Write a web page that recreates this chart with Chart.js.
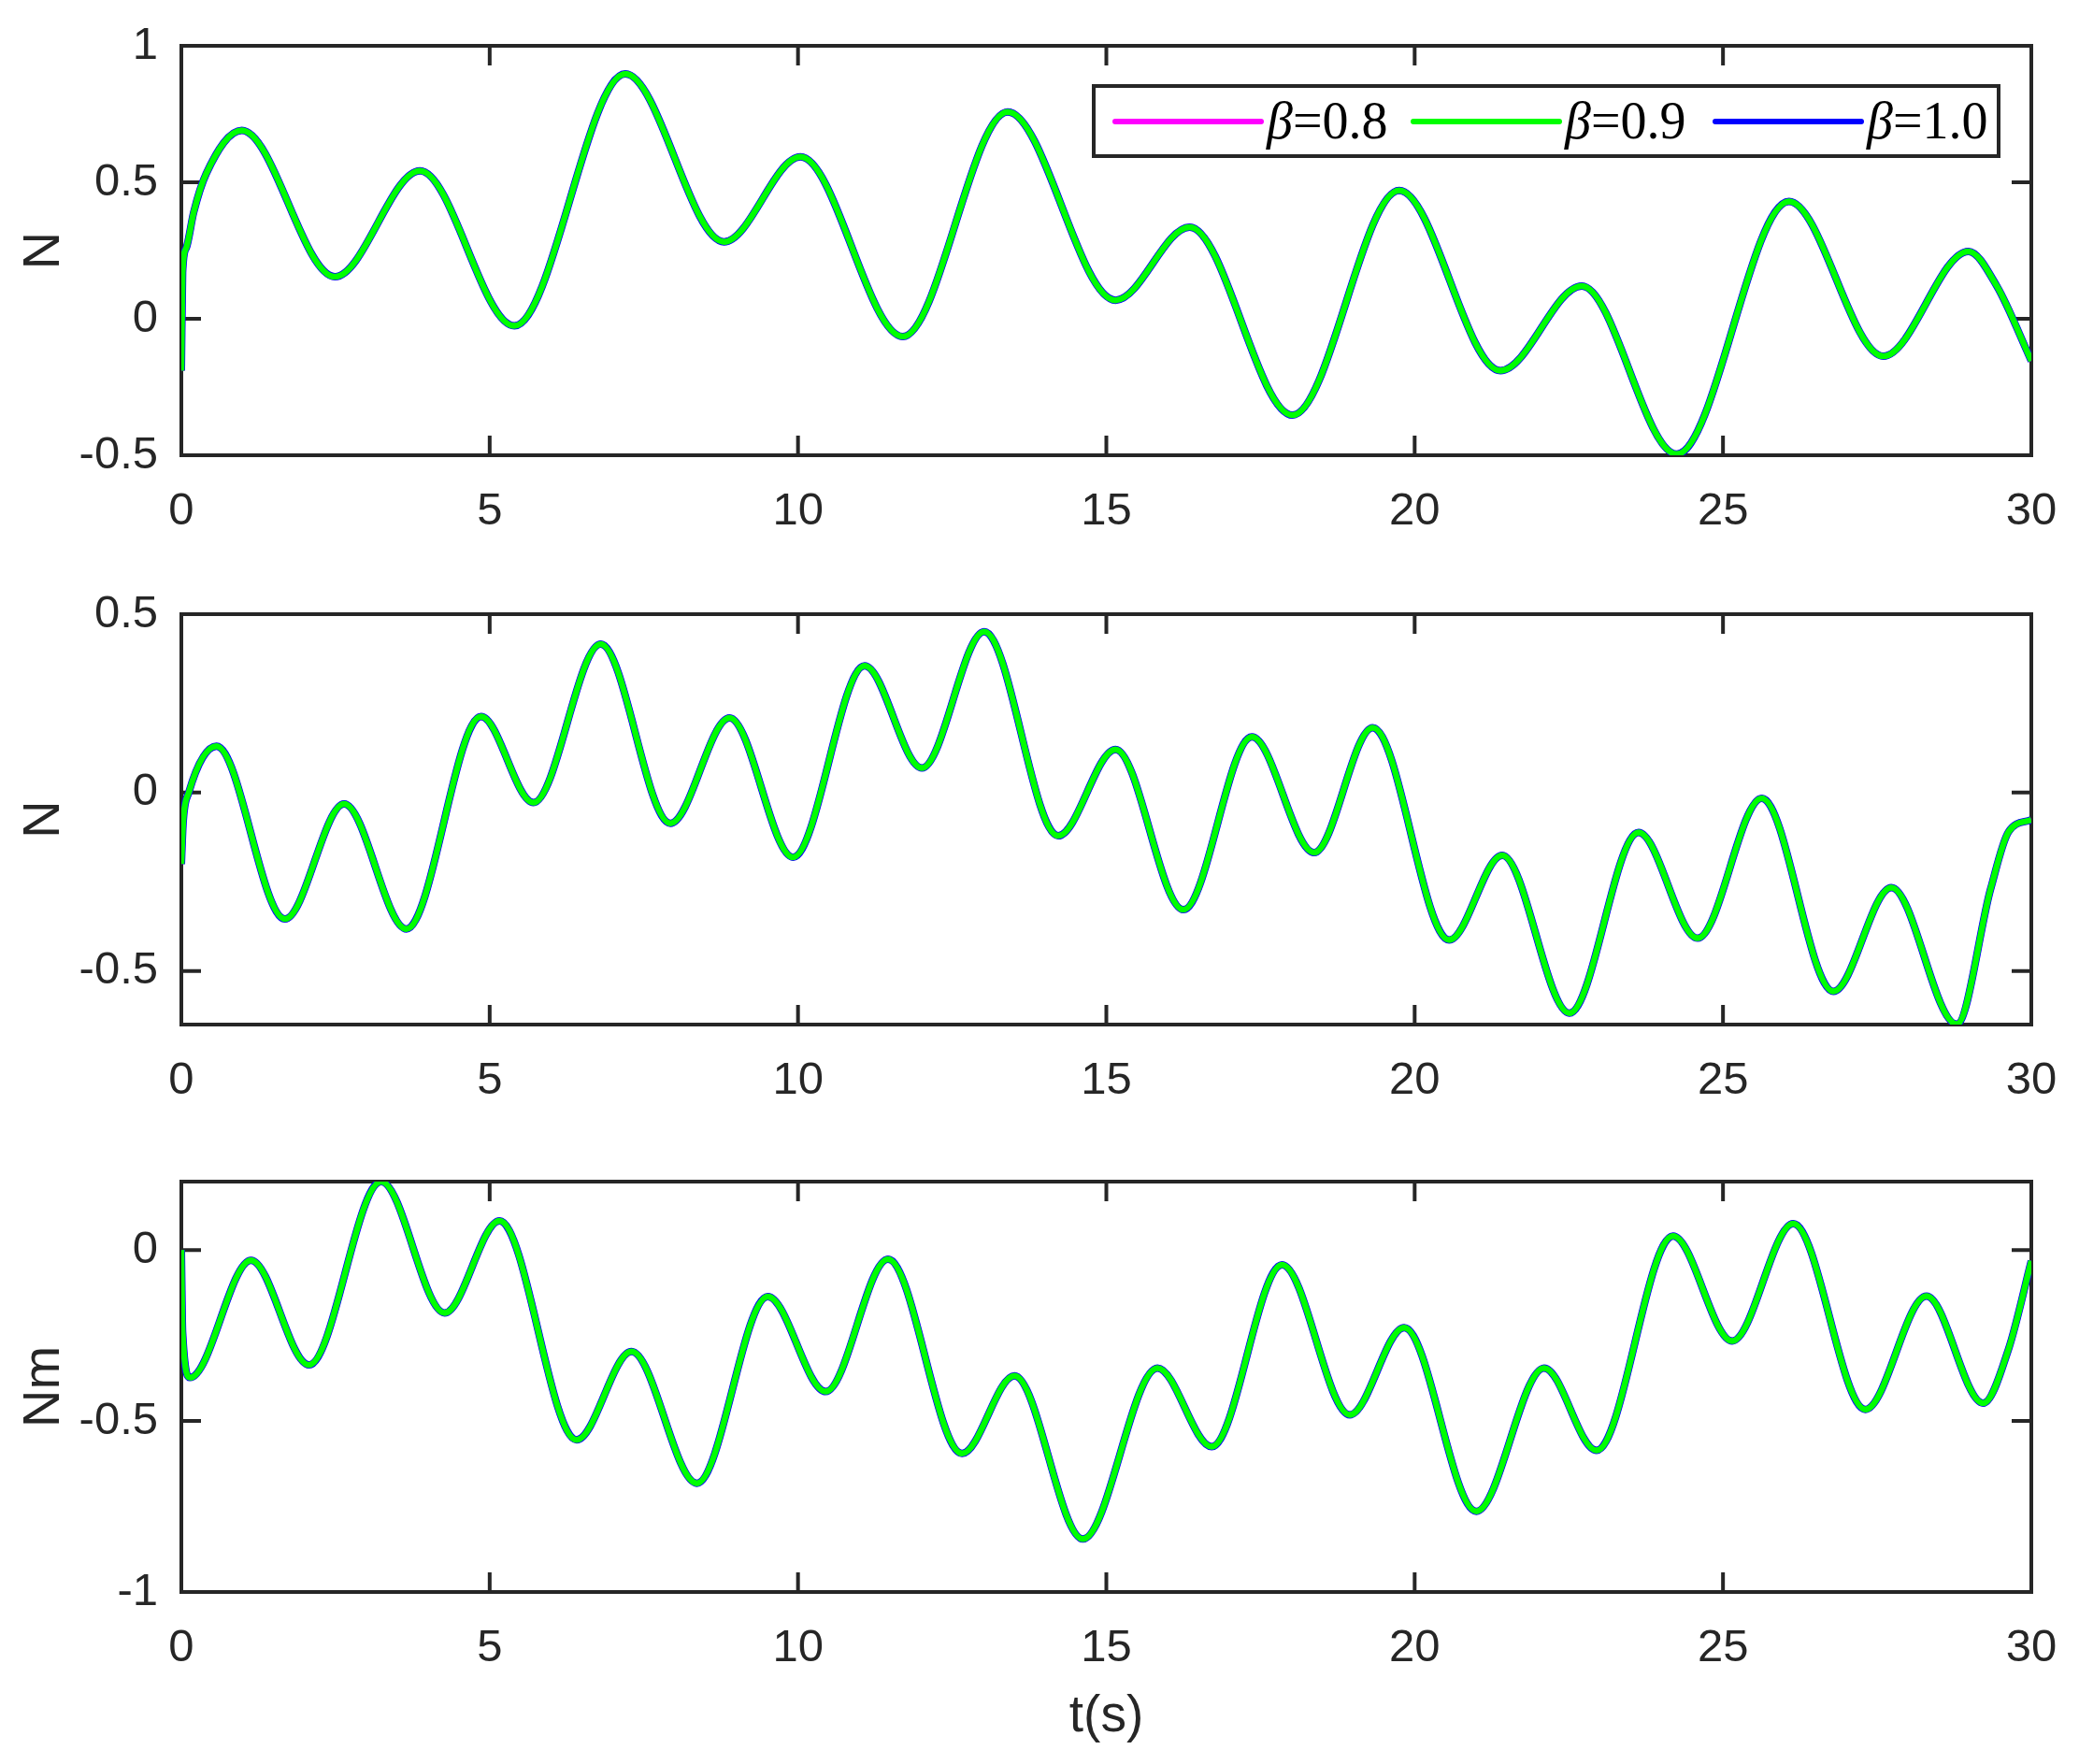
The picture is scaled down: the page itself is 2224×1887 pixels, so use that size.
<!DOCTYPE html>
<html>
<head>
<meta charset="utf-8">
<title>N / Nm response, beta = 0.8, 0.9, 1.0</title>
<script src="https://cdn.jsdelivr.net/npm/chart.js@4.4.1/dist/chart.umd.min.js"></script>
<style>
  html, body { margin: 0; padding: 0; background: #fff; }
  #wrap { position: relative; width: 2224px; height: 1887px; }
  canvas { position: absolute; left: 0; }
</style>
</head>
<body>
<div id="wrap">
  <canvas id="c1" width="2224" height="600" style="top:0px"></canvas>
  <canvas id="c2" width="2224" height="600" style="top:600px"></canvas>
  <canvas id="c3" width="2224" height="687" style="top:1200px"></canvas>
</div>
<script>
// series labels / colours
const betaValues = ['0.8', '0.9', '1.0'];
const betaColors = ['#ff00ff', '#00ff00', '#0000ff'];
const betaOrder = [3, 1, 2];          // green drawn on top, as in the figure
const betaWidths = [7, 6.5, 8];       // blue peeks out as a thin edge

const xTicks = [0, 5, 10, 15, 20, 25, 30];

// panel 1 : N (top)
const t1 = [0, 0.02, 0.08, 0.2, 0.4, 0.98, 2.49, 3.87, 5.40, 7.20, 8.80, 10.04, 11.70, 13.40, 15.15,
  16.35, 18.02, 19.75, 21.39, 22.71, 24.25, 26.07, 27.6, 28.98, 29.44, 30];
const v1 = [-0.19, 0.17, 0.26, 0.39, 0.53, 0.69, 0.154, 0.542, -0.026, 0.897, 0.282, 0.593, -0.065, 0.758, 0.068,
  0.336, -0.353, 0.470, -0.190, 0.120, -0.496, 0.430, -0.137, 0.247, 0.12, -0.154];
const yTicks1 = [-0.5, 0, 0.5, 1];

// panel 2 : N (middle)
const t2 = [0, 0.03, 0.12, 0.57, 1.68, 2.64, 3.65, 4.86, 5.71, 6.80, 7.93, 8.89, 9.92, 11.08, 12.01,
  13.02, 14.22, 15.15, 16.25, 17.36, 18.37, 19.32, 20.56, 21.42, 22.51, 23.63, 24.59, 25.63, 26.79,
  27.73, 28.79, 29.34, 29.63, 30];
const v2 = [-0.2, -0.08, 0.0, 0.13, -0.354, -0.032, -0.382, 0.213, -0.028, 0.416, -0.086, 0.209, -0.181,
  0.355, 0.069, 0.451, -0.121, 0.121, -0.328, 0.156, -0.168, 0.182, -0.413, -0.176, -0.618, -0.112,
  -0.408, -0.016, -0.557, -0.266, -0.649, -0.27, -0.11, -0.076];
const yTicks2 = [-0.5, 0, 0.5];

// panel 3 : Nm (bottom)
const t3 = [0, 0.02, 0.14, 1.13, 2.07, 3.24, 4.27, 5.16, 6.41, 7.30, 8.36, 9.51, 10.45, 11.46, 12.66,
  13.51, 14.62, 15.83, 16.71, 17.85, 18.95, 19.83, 21.0, 22.10, 22.95, 24.19, 25.15, 26.14, 27.31,
  28.30, 29.22, 29.63, 30];
const v3 = [0, -0.24, -0.373, -0.030, -0.336, 0.200, -0.184, 0.085, -0.555, -0.297, -0.682, -0.136,
  -0.414, -0.027, -0.595, -0.368, -0.845, -0.345, -0.575, -0.043, -0.482, -0.227, -0.764, -0.345,
  -0.586, 0.041, -0.266, 0.077, -0.466, -0.135, -0.448, -0.29, -0.032];
const yTicks3 = [-1, -0.5, 0];

const AXIS_COLOR = '#262626';
const SANS = '"Liberation Sans", Arial, sans-serif';
const SERIF = '"Liberation Serif", "Times New Roman", serif';
const TICK_LEN = 21;

// box + inward ticks on all four sides, like matlab
const framePlugin = {
    id: 'frame',
    beforeDatasetsDraw(chart) {
        const { ctx, chartArea: a, scales } = chart;
        ctx.save();
        ctx.strokeStyle = AXIS_COLOR;
        ctx.lineWidth = 4;
        ctx.beginPath();
        scales.x.ticks.forEach(t => {
            const px = scales.x.getPixelForValue(t.value);
            ctx.moveTo(px, a.bottom); ctx.lineTo(px, a.bottom - TICK_LEN);
            ctx.moveTo(px, a.top); ctx.lineTo(px, a.top + TICK_LEN);
        });
        scales.y.ticks.forEach(t => {
            const py = scales.y.getPixelForValue(t.value);
            ctx.moveTo(a.left, py); ctx.lineTo(a.left + TICK_LEN, py);
            ctx.moveTo(a.right, py); ctx.lineTo(a.right - TICK_LEN, py);
        });
        ctx.stroke();
        ctx.strokeRect(a.left, a.top, a.right - a.left, a.bottom - a.top);
        ctx.restore();
    }
};

// legend box inside the top panel
const legendPlugin = {
    id: 'boxLegend',
    afterDraw(chart) {
        const ctx = chart.ctx;
        const box = { x: 1170, y: 92, w: 968, h: 75 };
        const itemX = [1193, 1512, 1835];
        const lineY = 130, baseY = 148, lineLen = 156;
        ctx.save();
        ctx.fillStyle = '#fff';
        ctx.fillRect(box.x, box.y, box.w, box.h);
        ctx.strokeStyle = AXIS_COLOR;
        ctx.lineWidth = 4;
        ctx.strokeRect(box.x, box.y, box.w, box.h);
        chart.data.datasets.forEach((ds, i) => {
            ctx.strokeStyle = ds.borderColor;
            ctx.lineWidth = 6;
            ctx.lineCap = 'round';
            ctx.beginPath();
            ctx.moveTo(itemX[i], lineY);
            ctx.lineTo(itemX[i] + lineLen, lineY);
            ctx.stroke();
            ctx.fillStyle = '#000';
            ctx.textBaseline = 'alphabetic';
            let x = itemX[i] + lineLen + 6;
            ctx.font = 'italic 56px ' + SERIF;
            ctx.fillText('β', x, baseY);
            x += ctx.measureText('β').width;
            ctx.font = '56px ' + SERIF;
            ctx.fillText('=' + betaValues[i], x, baseY);
        });
        ctx.restore();
    }
};

function makeChart(id, tVals, vVals, yMin, yMax, yTicks, yTitle, padTop, xHeight, xTitle, extraPlugins) {
    const points = tVals.map((t, i) => ({ x: t, y: vVals[i] }));
    const datasets = betaValues.map((b, i) => ({
        label: 'β=' + b,
        data: points,
        borderColor: betaColors[i],
        borderWidth: betaWidths[i],
        pointRadius: 0,
        fill: false,
        cubicInterpolationMode: 'monotone',
        order: betaOrder[i]
    }));

    return new Chart(document.getElementById(id), {
        type: 'line',
        data: { datasets },
        options: {
            responsive: false,
            animation: false,
            devicePixelRatio: 1,
            layout: { padding: { top: padTop, right: 51, left: 0, bottom: 0 } },
            plugins: { legend: { display: false }, tooltip: { enabled: false } },
            scales: {
                x: {
                    type: 'linear',
                    min: 0,
                    max: 30,
                    grid: { display: false },
                    border: { display: false },
                    afterBuildTicks: s => { s.ticks = xTicks.map(v => ({ value: v })); },
                    afterFit: s => { s.height = xHeight; },
                    ticks: {
                        color: AXIS_COLOR,
                        font: { family: SANS, size: 49 },
                        padding: 23,
                        maxRotation: 0,
                        callback: v => String(v)
                    },
                    title: {
                        display: !!xTitle,
                        text: xTitle || '',
                        color: AXIS_COLOR,
                        font: { family: SANS, size: 55 },
                        padding: { top: 0, bottom: 17 }
                    }
                },
                y: {
                    type: 'linear',
                    min: yMin,
                    max: yMax,
                    grid: { display: false },
                    border: { display: false },
                    afterBuildTicks: s => { s.ticks = yTicks.map(v => ({ value: v })); },
                    afterFit: s => { s.width = 194; },
                    ticks: {
                        color: AXIS_COLOR,
                        font: { family: SANS, size: 49 },
                        padding: 17,
                        callback: v => String(v)
                    },
                    title: {
                        display: true,
                        text: yTitle,
                        color: AXIS_COLOR,
                        font: { family: SANS, size: 56 },
                        padding: { top: 14, bottom: 0 }
                    }
                }
            }
        },
        plugins: [framePlugin].concat(extraPlugins || [])
    });
}

makeChart('c1', t1, v1, -0.5, 1, yTicks1, 'N', 49, 113, null, [legendPlugin]);
makeChart('c2', t2, v2, -0.65, 0.5, yTicks2, 'N', 57, 104, null);
makeChart('c3', t3, v3, -1, 0.2, yTicks3, 'Nm', 64, 184, 't(s)');
</script>
</body>
</html>
